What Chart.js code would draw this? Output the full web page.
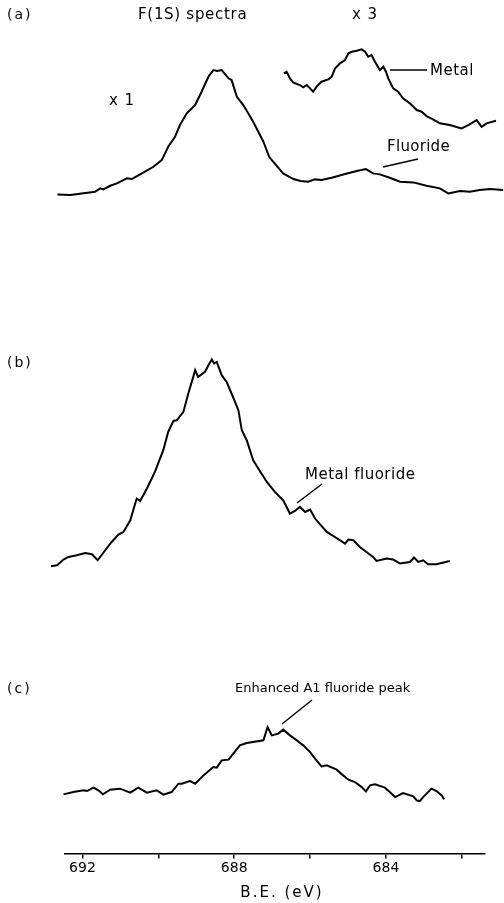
<!DOCTYPE html>
<html>
<head>
<meta charset="utf-8">
<script src="https://cdn.jsdelivr.net/npm/chart.js@4/dist/chart.umd.min.js"></script>
<style>
  html, body { margin: 0; padding: 0; background: #fff; }
  #wrap { width: 504px; height: 903px; }
</style>
</head>
<body>
<div id="wrap"><canvas id="c" width="504" height="903"></canvas></div>
<script>
// Binding-energy axis (eV)
const energyTicks = [692, 690, 688, 686, 684, 682];
const labelledTicks = [692, 688, 684];
const energyAxisTitle = 'B.E. (eV)';

// F(1s) spectra, [binding energy (eV), counts (arb. units)]
// (a) as-received surface, x1
const spectrumA = [
  [692.66, 1.7], [692.32, 1.0], [691.67, 4.3], [691.53, 7.7], [691.45, 6.7], [691.27, 10.3],
  [691.09, 12.7], [690.83, 17.7], [690.70, 17.0], [690.48, 21.7], [690.13, 29.3], [689.91, 36.0],
  [689.74, 49.3], [689.56, 59.3], [689.43, 71.0], [689.25, 82.7], [689.03, 91.0], [688.86, 104.3],
  [688.68, 119.3], [688.55, 126.0], [688.45, 125.0], [688.33, 126.0], [688.15, 117.7], [688.07, 116.0],
  [687.93, 99.3], [687.76, 91.0], [687.50, 74.3], [687.23, 54.3], [687.08, 39.3], [686.97, 34.3],
  [686.71, 22.7], [686.44, 17.0], [686.25, 15.0], [686.05, 14.3], [685.87, 16.7], [685.70, 16.0],
  [685.43, 18.3], [685.08, 22.0], [684.77, 25.0], [684.53, 27.0], [684.34, 22.7], [684.16, 21.7],
  [683.90, 18.3], [683.63, 14.3], [683.28, 13.7], [682.93, 10.3], [682.58, 7.7], [682.36, 2.7],
  [682.05, 5.0], [681.79, 4.3], [681.53, 6.0], [681.26, 7.0], [680.91, 6.0]
];
// (a) metal component, x3
const spectrumAMetalX3 = [
  [686.69, 56.7], [686.62, 58.3], [686.53, 51.7], [686.44, 47.3], [686.27, 45.0], [686.18, 42.7],
  [686.09, 45.0], [686.00, 41.7], [685.92, 38.3], [685.83, 43.3], [685.70, 48.3], [685.52, 50.7],
  [685.43, 53.3], [685.34, 61.7], [685.21, 66.7], [685.08, 70.0], [684.99, 76.7], [684.90, 78.3],
  [684.77, 79.3], [684.64, 80.7], [684.55, 78.3], [684.47, 73.3], [684.38, 75.0], [684.29, 68.3],
  [684.16, 60.0], [684.07, 63.3], [684.00, 58.3], [683.94, 51.7], [683.81, 41.7], [683.68, 38.3],
  [683.55, 31.7], [683.37, 26.7], [683.19, 20.0], [683.06, 18.3], [682.93, 14.0], [682.76, 10.7],
  [682.58, 6.7], [682.32, 5.0], [682.01, 1.7], [681.83, 5.0], [681.61, 10.0], [681.48, 3.3],
  [681.35, 6.7], [681.10, 9.3]
];
// (b) metal fluoride
const spectrumB = [
  [692.83, 1.0], [692.67, 2.0], [692.50, 7.7], [692.37, 10.3], [692.15, 12.0], [691.93, 14.3],
  [691.75, 13.0], [691.60, 7.0], [691.40, 17.0], [691.23, 25.3], [691.05, 32.7], [690.92, 35.3],
  [690.74, 47.0], [690.57, 68.7], [690.48, 66.3], [690.30, 78.7], [690.09, 95.3], [689.87, 117.0],
  [689.74, 135.3], [689.60, 146.3], [689.51, 147.0], [689.34, 155.3], [689.21, 173.7], [689.08, 190.3],
  [689.03, 197.0], [688.95, 190.3], [688.77, 195.3], [688.68, 202.0], [688.59, 207.7], [688.53, 203.7],
  [688.46, 205.3], [688.33, 192.0], [688.20, 185.3], [688.07, 173.7], [687.89, 157.0], [687.80, 137.0],
  [687.67, 127.0], [687.50, 107.0], [687.32, 96.0], [687.14, 85.3], [686.93, 75.3], [686.71, 67.0],
  [686.53, 53.7], [686.40, 56.3], [686.27, 60.3], [686.13, 55.3], [686.00, 57.7], [685.87, 48.7],
  [685.56, 35.3], [685.21, 27.0], [685.08, 23.7], [684.99, 27.7], [684.86, 27.0], [684.69, 20.3],
  [684.34, 10.3], [684.25, 6.3], [683.98, 8.7], [683.81, 7.7], [683.63, 3.7], [683.37, 5.3],
  [683.26, 9.7], [683.15, 5.3], [683.02, 7.0], [682.89, 3.0], [682.67, 3.0], [682.32, 6.3]
];
// (c) enhanced Al fluoride
const spectrumC = [
  [692.50, 8.0], [692.24, 10.3], [691.97, 12.0], [691.88, 11.3], [691.71, 14.7], [691.58, 12.0],
  [691.46, 8.0], [691.27, 12.7], [691.01, 13.7], [690.74, 9.7], [690.53, 14.7], [690.30, 9.7],
  [690.04, 12.0], [689.87, 7.7], [689.65, 10.3], [689.47, 18.7], [689.38, 18.7], [689.25, 20.3],
  [689.16, 21.3], [689.03, 18.7], [688.81, 27.0], [688.55, 35.3], [688.46, 34.7], [688.33, 42.0],
  [688.15, 42.7], [687.85, 57.0], [687.67, 59.3], [687.23, 62.0], [687.12, 75.3], [687.01, 67.0],
  [686.84, 68.7], [686.71, 72.7], [686.53, 67.0], [686.35, 62.0], [686.18, 57.0], [686.00, 50.3],
  [685.87, 43.7], [685.70, 36.0], [685.56, 37.0], [685.30, 32.7], [685.13, 27.0], [684.99, 22.7],
  [684.82, 20.3], [684.64, 15.3], [684.53, 11.0], [684.42, 17.0], [684.29, 18.0], [684.03, 14.7],
  [683.90, 10.3], [683.76, 5.3], [683.55, 9.3], [683.28, 6.0], [683.19, 2.0], [683.11, 1.3],
  [683.02, 5.3], [682.80, 13.7], [682.67, 11.3], [682.53, 7.0], [682.47, 3.0]
];

// Plot area geometry: the three traces share one energy axis and are
// stacked on their own hidden count axes.
const AREA_TOP = 0;
const AREA_BOTTOM = 853;
function stackedAxis(baselinePx) {
  return { display: false, min: baselinePx - AREA_BOTTOM, max: baselinePx - AREA_TOP };
}

const FONT = '"DejaVu Sans", sans-serif';
const INK = '#000';

function trace(points, axis) {
  return {
    data: points.map(([x, y]) => ({ x, y })),
    yAxisID: axis,
    borderColor: INK,
    borderWidth: 2,
    pointRadius: 0,
    tension: 0,
    fill: false,
    clip: false
  };
}

// Panel captions and leader lines
const captions = [
  { text: '(a)', x: 7, y: 15, align: 'left', size: 14, spacing: 2 },
  { text: 'F(1S) spectra', x: 138, y: 15, align: 'left', size: 15, spacing: 0.7 },
  { text: 'x 3', x: 365, y: 15, align: 'center', size: 15, spacing: 1 },
  { text: 'x 1', x: 122, y: 101, align: 'center', size: 15, spacing: 1 },
  { text: 'Metal', x: 430, y: 71, align: 'left', size: 15, spacing: 0.5 },
  { text: 'Fluoride', x: 387, y: 147, align: 'left', size: 15, spacing: 0.3 },
  { text: '(b)', x: 7, y: 363, align: 'left', size: 14, spacing: 2 },
  { text: 'Metal fluoride', x: 305, y: 475, align: 'left', size: 15, spacing: 0.5 },
  { text: '(c)', x: 7, y: 689, align: 'left', size: 14, spacing: 2 },
  { text: 'Enhanced A1 fluoride peak', x: 235, y: 689, align: 'left', size: 13, spacing: 0 },
  { text: energyAxisTitle, x: 282, y: 893, align: 'center', size: 15, spacing: 2 }
];
const leaders = [
  [[390, 70], [427, 70]],
  [[383, 167], [418, 159]],
  [[297, 503], [322, 484]],
  [[282, 724], [312, 700]]
];

const captionPlugin = {
  id: 'captions',
  afterDraw(chart) {
    const ctx = chart.ctx;
    ctx.save();
    ctx.fillStyle = INK;
    ctx.strokeStyle = INK;
    ctx.textBaseline = 'middle';
    captions.forEach(c => {
      ctx.font = `${c.size}px ${FONT}`;
      ctx.letterSpacing = `${c.spacing}px`;
      ctx.textAlign = c.align;
      ctx.fillText(c.text, c.x, c.y);
    });
    ctx.lineWidth = 1.5;
    leaders.forEach(([a, b]) => {
      ctx.beginPath();
      ctx.moveTo(a[0], a[1]);
      ctx.lineTo(b[0], b[1]);
      ctx.stroke();
    });
    ctx.restore();
  }
};

new Chart(document.getElementById('c'), {
  type: 'line',
  data: {
    datasets: [
      trace(spectrumA, 'ya'),
      trace(spectrumAMetalX3, 'ya3'),
      trace(spectrumB, 'yb'),
      trace(spectrumC, 'yc')
    ]
  },
  options: {
    responsive: false,
    devicePixelRatio: 1,
    animation: false,
    layout: { padding: { left: 65, right: 19, top: AREA_TOP, bottom: 23.8 } },
    plugins: { legend: { display: false }, tooltip: { enabled: false } },
    scales: {
      x: {
        type: 'linear',
        position: 'bottom',
        reverse: true,
        min: 681.39,
        max: 692.46,
        afterBuildTicks: axis => { axis.ticks = energyTicks.map(v => ({ value: v })); },
        grid: { drawOnChartArea: false, drawTicks: true, tickLength: 5, color: INK, lineWidth: 1.5 },
        border: { display: true, color: INK, width: 1.5 },
        ticks: {
          autoSkip: false,
          maxRotation: 0,
          padding: 2,
          color: INK,
          font: { family: FONT, size: 14 },
          callback: v => labelledTicks.includes(v) ? String(v) : ''
        },
        title: { display: false }
      },
      ya: stackedAxis(196),
      ya3: stackedAxis(130),
      yb: stackedAxis(567),
      yc: stackedAxis(802)
    }
  },
  plugins: [captionPlugin]
});
</script>
</body>
</html>
